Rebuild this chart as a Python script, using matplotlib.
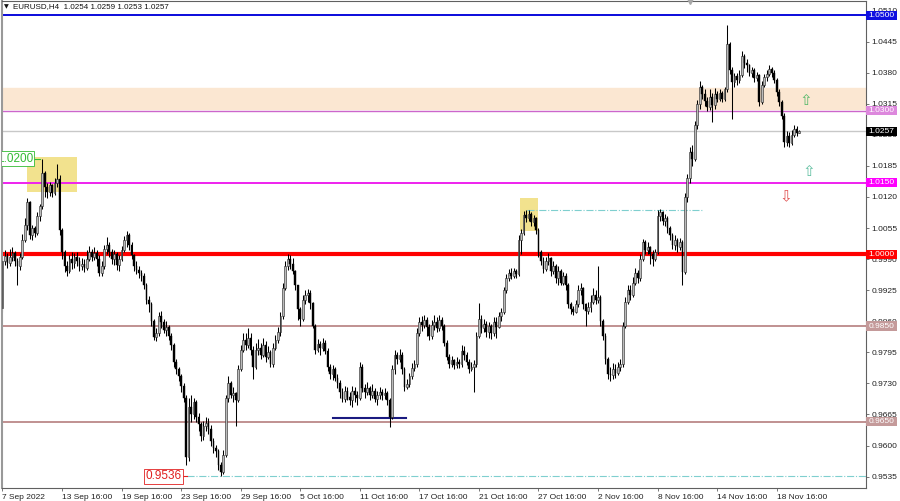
import numpy as np
import matplotlib
matplotlib.use("Agg")
import matplotlib.pyplot as plt
import matplotlib.transforms as mtransforms
from matplotlib.patches import Rectangle

FONT = "Liberation Sans"

# ---- EURUSD H4 candles ----
first_open = 0.9888
closes = [
    0.9985, 0.9996, 0.9982, 0.9994, 1.0003, 0.9985, 0.9975, 0.9995, 1.0030, 1.0062,
    1.0110, 1.0040, 1.0055, 1.0045, 1.0080, 1.0100, 1.0170, 1.0140, 1.0130, 1.0145,
    1.0128, 1.0150, 1.0158, 1.0050,
    1.0005, 0.9975, 0.9965, 0.9990, 0.9982, 0.9995, 0.9985, 0.9975, 0.9980, 0.9972,
    0.9990, 1.0005, 0.9995, 1.0002, 0.9990, 0.9960, 0.9975, 1.0012, 1.0020, 1.0005,
    0.9990, 1.0000, 0.9978, 0.9990,
    1.0010, 1.0030, 1.0040, 1.0020, 0.9998, 0.9975, 0.9968, 0.9960, 0.9955, 0.9935,
    0.9905, 0.9895, 0.9860, 0.9828, 0.9835, 0.9870, 0.9858, 0.9842, 0.9848, 0.9830,
    0.9810, 0.9775, 0.9760, 0.9745, 0.9725, 0.9700,
    0.9575, 0.9680, 0.9665, 0.9690, 0.9660, 0.9645, 0.9620, 0.9640, 0.9648, 0.9635,
    0.9610, 0.9595, 0.9588, 0.9560, 0.9545, 0.9580, 0.9700, 0.9730, 0.9705, 0.9710,
    0.9695, 0.9760, 0.9800, 0.9820, 0.9810, 0.9825, 0.9800, 0.9765, 0.9800, 0.9805,
    0.9790, 0.9810, 0.9785, 0.9795, 0.9770, 0.9805, 0.9820, 0.9838, 0.9870, 0.9930,
    0.9975, 0.9990, 0.9980, 0.9965, 0.9935, 0.9885,
    0.9865, 0.9905, 0.9915, 0.9920, 0.9898, 0.9850, 0.9800, 0.9812, 0.9805, 0.9815,
    0.9798, 0.9765, 0.9750, 0.9760, 0.9742, 0.9730, 0.9712, 0.9698, 0.9715, 0.9702,
    0.9695, 0.9715, 0.9705, 0.9700, 0.9765, 0.9720, 0.9712, 0.9720, 0.9705, 0.9715,
    0.9698, 0.9705, 0.9712, 0.9705, 0.9710, 0.9695, 0.9660, 0.9760, 0.9790, 0.9780,
    0.9790, 0.9760, 0.9722, 0.9728, 0.9745, 0.9762, 0.9770, 0.9835, 0.9858, 0.9852,
    0.9862, 0.9848, 0.9830, 0.9852, 0.9858, 0.9845, 0.9862, 0.9850, 0.9815, 0.9785,
    0.9770, 0.9778, 0.9768, 0.9775, 0.9770, 0.9798, 0.9790, 0.9775, 0.9760, 0.9765,
    0.9770, 0.9830, 0.9865, 0.9845, 0.9855, 0.9838, 0.9850, 0.9835, 0.9858, 0.9848,
    0.9870, 0.9880, 0.9925, 0.9950, 0.9960, 0.9955, 0.9965, 0.9958, 1.0030, 1.0045,
    1.0082, 1.0075, 1.0085, 1.0068, 1.0075, 1.0050, 1.0005, 0.9985, 0.9970, 0.9985,
    0.9992, 0.9965, 0.9975, 0.9950, 0.9965, 0.9940, 0.9955, 0.9935, 0.9895, 0.9885,
    0.9880, 0.9895, 0.9925, 0.9930, 0.9895, 0.9882, 0.9890, 0.9900, 0.9915, 0.9905,
    0.9910, 0.9860, 0.9830, 0.9780, 0.9750, 0.9748, 0.9760, 0.9752, 0.9765, 0.9770,
    0.9850, 0.9900, 0.9925, 0.9915, 0.9940, 0.9960, 0.9950, 0.9990, 1.0025, 1.0010,
    1.0015, 1.0000, 0.9990, 1.0005, 1.0080, 1.0088, 1.0070, 1.0075, 1.0055, 1.0040,
    1.0020, 1.0030, 1.0015, 1.0025, 0.9962, 1.0120, 1.0160, 1.0215, 1.0200, 1.0270,
    1.0315, 1.0350, 1.0335, 1.0320, 1.0308, 1.0330, 1.0312, 1.0335, 1.0325, 1.0338,
    1.0325, 1.0345, 1.0440, 1.0385, 1.0360, 1.0372, 1.0365, 1.0375, 1.0415, 1.0400,
    1.0395, 1.0380, 1.0385, 1.0368, 1.0375, 1.0318, 1.0355, 1.0370, 1.0378, 1.0388,
    1.0380, 1.0365, 1.0340, 1.0318, 1.0290, 1.0235, 1.0248, 1.0232, 1.0250, 1.0262,
    1.0254, 1.0257,
]
highs = [
    0.9990, 1.0008, 1.0002, 1.0012, 1.0015, 1.0006, 0.9992, 1.0002, 1.0042, 1.0075,
    1.0118, 1.0112, 1.0062, 1.0060, 1.0088, 1.0106, 1.0199, 1.0175, 1.0150, 1.0152,
    1.0148, 1.0160, 1.0188, 1.0165,
    1.0055, 1.0010, 0.9985, 0.9998, 1.0005, 1.0002, 1.0005, 0.9995, 0.9992, 0.9990,
    1.0008, 1.0018, 1.0012, 1.0015, 1.0008, 0.9998, 0.9985, 1.0020, 1.0036, 1.0025,
    1.0012, 1.0010, 1.0005, 0.9998,
    1.0018, 1.0038, 1.0048, 1.0045, 1.0025, 1.0000, 0.9985, 0.9975, 0.9968, 0.9960,
    0.9940, 0.9912, 0.9900, 0.9865, 0.9845, 0.9880, 0.9882, 0.9865, 0.9860, 0.9852,
    0.9835, 0.9815, 0.9782, 0.9765, 0.9750, 0.9730,
    0.9705, 0.9700, 0.9705, 0.9700, 0.9695, 0.9668, 0.9650, 0.9652, 0.9660, 0.9658,
    0.9642, 0.9615, 0.9602, 0.9592, 0.9565, 0.9590, 0.9705, 0.9745, 0.9735, 0.9722,
    0.9712, 0.9768, 0.9810, 0.9835, 0.9835, 0.9845, 0.9835, 0.9808, 0.9815, 0.9822,
    0.9815, 0.9825, 0.9818, 0.9808, 0.9800, 0.9815, 0.9832, 0.9848, 0.9880, 0.9940,
    0.9985, 1.0000, 0.9998, 0.9992, 0.9968, 0.9935,
    0.9890, 0.9915, 0.9925, 0.9928, 0.9925, 0.9900, 0.9855, 0.9822, 0.9818, 0.9825,
    0.9820, 0.9805, 0.9770, 0.9768, 0.9765, 0.9750, 0.9738, 0.9720, 0.9725, 0.9722,
    0.9712, 0.9725, 0.9722, 0.9715, 0.9775, 0.9770, 0.9728, 0.9732, 0.9725, 0.9728,
    0.9720, 0.9715, 0.9722, 0.9718, 0.9720, 0.9715, 0.9700, 0.9768, 0.9800, 0.9795,
    0.9802, 0.9795, 0.9765, 0.9740, 0.9752, 0.9772, 0.9778, 0.9845, 0.9868, 0.9870,
    0.9872, 0.9868, 0.9855, 0.9862, 0.9872, 0.9868, 0.9872, 0.9868, 0.9855, 0.9820,
    0.9792, 0.9788, 0.9782, 0.9785, 0.9782, 0.9810, 0.9808, 0.9795, 0.9782, 0.9775,
    0.9778, 0.9838, 0.9898, 0.9872, 0.9865, 0.9860, 0.9858, 0.9855, 0.9868, 0.9868,
    0.9880, 0.9888, 0.9932, 0.9958, 0.9970, 0.9972, 0.9972, 0.9970, 1.0040, 1.0052,
    1.0090, 1.0093, 1.0092, 1.0088, 1.0082, 1.0078, 1.0055, 1.0010, 0.9995, 0.9995,
    1.0002, 0.9995, 0.9985, 0.9980, 0.9975, 0.9970, 0.9962, 0.9960, 0.9940, 0.9900,
    0.9892, 0.9905, 0.9935, 0.9940, 0.9932, 0.9898, 0.9900, 0.9915, 0.9930, 0.9925,
    0.9975, 0.9915, 0.9865, 0.9835, 0.9785, 0.9765, 0.9772, 0.9770, 0.9775, 0.9780,
    0.9858, 0.9910, 0.9935, 0.9935, 0.9952, 0.9972, 0.9968, 1.0000, 1.0032, 1.0030,
    1.0025, 1.0018, 1.0008, 1.0012, 1.0092, 1.0095, 1.0090, 1.0085, 1.0080, 1.0060,
    1.0045, 1.0040, 1.0035, 1.0035, 1.0030, 1.0128, 1.0168, 1.0225, 1.0228, 1.0278,
    1.0322, 1.0362, 1.0355, 1.0345, 1.0330, 1.0345, 1.0338, 1.0348, 1.0342, 1.0345,
    1.0342, 1.0350, 1.0479, 1.0445, 1.0392, 1.0380, 1.0380, 1.0385, 1.0425, 1.0420,
    1.0408, 1.0398, 1.0392, 1.0390, 1.0382, 1.0378, 1.0362, 1.0378, 1.0385, 1.0395,
    1.0392, 1.0385, 1.0368, 1.0345, 1.0322, 1.0295, 1.0258, 1.0255, 1.0260, 1.0270,
    1.0268, 1.0259,
]
lows = [
    0.9880, 0.9978, 0.9972, 0.9976, 0.9985, 0.9975, 0.9935, 0.9968, 0.9990, 1.0025,
    1.0050, 1.0032, 1.0030, 1.0036, 1.0040, 1.0070, 1.0095, 1.0120, 1.0118, 1.0122,
    1.0120, 1.0125, 1.0140, 1.0040,
    0.9990, 0.9962, 0.9955, 0.9960, 0.9970, 0.9972, 0.9975, 0.9965, 0.9968, 0.9962,
    0.9968, 0.9985, 0.9985, 0.9988, 0.9975, 0.9955, 0.9954, 0.9970, 1.0000, 0.9995,
    0.9980, 0.9978, 0.9968, 0.9965,
    0.9985, 1.0005, 1.0015, 1.0010, 0.9990, 0.9965, 0.9958, 0.9950, 0.9945, 0.9928,
    0.9895, 0.9880, 0.9850, 0.9820, 0.9818, 0.9830, 0.9845, 0.9835, 0.9830, 0.9820,
    0.9800, 0.9765, 0.9750, 0.9735, 0.9712, 0.9690,
    0.9560, 0.9568, 0.9650, 0.9655, 0.9650, 0.9630, 0.9610, 0.9612, 0.9630, 0.9625,
    0.9600, 0.9585, 0.9575, 0.9548, 0.9536, 0.9540, 0.9575, 0.9690, 0.9700, 0.9690,
    0.9640, 0.9690, 0.9755, 0.9795, 0.9800, 0.9805, 0.9790, 0.9740, 0.9760, 0.9790,
    0.9782, 0.9785, 0.9775, 0.9780, 0.9765, 0.9765, 0.9800, 0.9815, 0.9830, 0.9865,
    0.9925, 0.9968, 0.9970, 0.9958, 0.9925, 0.9862,
    0.9850, 0.9860, 0.9895, 0.9900, 0.9885, 0.9845, 0.9792, 0.9795, 0.9790, 0.9798,
    0.9792, 0.9755, 0.9740, 0.9738, 0.9735, 0.9720, 0.9700, 0.9690, 0.9692, 0.9695,
    0.9685, 0.9680, 0.9690, 0.9685, 0.9695, 0.9712, 0.9700, 0.9705, 0.9695, 0.9700,
    0.9690, 0.9685, 0.9698, 0.9695, 0.9698, 0.9685, 0.9638, 0.9655, 0.9750, 0.9770,
    0.9775, 0.9750, 0.9715, 0.9718, 0.9722, 0.9740, 0.9755, 0.9765, 0.9830, 0.9840,
    0.9845, 0.9830, 0.9820, 0.9822, 0.9842, 0.9838, 0.9840, 0.9842, 0.9808, 0.9778,
    0.9762, 0.9765, 0.9760, 0.9762, 0.9762, 0.9765, 0.9778, 0.9768, 0.9752, 0.9755,
    0.9712, 0.9765, 0.9825, 0.9835, 0.9838, 0.9828, 0.9825, 0.9822, 0.9830, 0.9825,
    0.9845, 0.9860, 0.9875, 0.9918, 0.9945, 0.9948, 0.9950, 0.9950, 0.9955, 1.0000,
    1.0040, 1.0068, 1.0070, 1.0060, 1.0060, 1.0042, 0.9995, 0.9978, 0.9960, 0.9965,
    0.9978, 0.9955, 0.9958, 0.9940, 0.9935, 0.9935, 0.9935, 0.9925, 0.9888, 0.9875,
    0.9872, 0.9878, 0.9890, 0.9915, 0.9885, 0.9850, 0.9875, 0.9880, 0.9895, 0.9895,
    0.9898, 0.9850, 0.9820, 0.9770, 0.9740, 0.9735, 0.9740, 0.9742, 0.9748, 0.9755,
    0.9765, 0.9845, 0.9895, 0.9905, 0.9910, 0.9935, 0.9940, 0.9945, 0.9985, 1.0000,
    1.0000, 0.9980, 0.9975, 0.9985, 1.0000, 1.0070, 1.0062, 1.0060, 1.0045, 1.0030,
    1.0012, 1.0010, 1.0005, 1.0010, 0.9935, 0.9958, 1.0110, 1.0150, 1.0185, 1.0195,
    1.0262, 1.0305, 1.0325, 1.0310, 1.0300, 1.0302, 1.0276, 1.0305, 1.0318, 1.0320,
    1.0318, 1.0320, 1.0340, 1.0378, 1.0282, 1.0350, 1.0355, 1.0358, 1.0370, 1.0390,
    1.0382, 1.0372, 1.0370, 1.0360, 1.0362, 1.0310, 1.0315, 1.0350, 1.0362, 1.0372,
    1.0370, 1.0358, 1.0332, 1.0310, 1.0282, 1.0225, 1.0226, 1.0224, 1.0228, 1.0245,
    1.0248, 1.0253,
]

# time axis (one label every 24 bars)
x_tick_pos = [0, 24, 48, 72, 96, 120, 144, 168, 192, 216, 240, 264, 288, 312]
x_tick_labels = ["7 Sep 2022", "13 Sep 16:00", "19 Sep 16:00", "23 Sep 16:00",
                 "29 Sep 16:00", "5 Oct 16:00", "11 Oct 16:00", "17 Oct 16:00",
                 "21 Oct 16:00", "27 Oct 16:00", "2 Nov 16:00", "8 Nov 16:00",
                 "14 Nov 16:00", "18 Nov 16:00"]
y_ticks = [1.0510, 1.0445, 1.0380, 1.0315, 1.0250, 1.0185, 1.0120, 1.0055,
           0.9990, 0.9925, 0.9860, 0.9795, 0.9730, 0.9665, 0.9600, 0.9535]

# horizontal levels and their price tags
level_prices = [1.0500, 1.0300, 1.0150, 1.0000, 0.9850, 0.9650]
level_colors = ["#0a0adc", "#cc66cc", "#ee22ee", "#ff0000", "#c09090", "#c09090"]
level_tag_colors = ["#1010e0", "#dd88dd", "#ff00ff", "#ff0000", "#c49a9a", "#c49a9a"]
level_widths = [1.4, 1.0, 1.4, 3.0, 1.4, 1.4]
last_price = 1.0257

zone_low, zone_high = 1.0305, 1.0347
box1 = (10.0, 30.2, 1.0130, 1.0203)
box2 = (208.5, 215.8, 1.0048, 1.0117)
high_line = (211.5, 282.0, 1.0093)
low_line = (133.0, 162.5, 0.9657)
low_price = 0.9536
top_price = 1.0200

# ---- figure ----
fig = plt.figure(figsize=(9.0, 5.01), dpi=100)
ax = fig.add_axes([2 / 900, 1 - 488 / 501, 864 / 900, 487 / 501])
ax.set_facecolor("white")
ax.set_xlim(-0.2, 348.0)
ax.set_ylim(0.95111, 1.05299)

o = np.array([first_open] + closes[:-1])
c = np.array(closes)
h = np.maximum(np.array(highs), np.maximum(o, c))
l = np.minimum(np.array(lows), np.minimum(o, c))
xs = np.arange(len(c))
up = c >= o

# zones
ax.axhspan(zone_low, zone_high, color="#fbe7d2", zorder=0)
for x0, x1, y0, y1 in (box1, box2):
    ax.add_patch(Rectangle((x0, y0), x1 - x0, y1 - y0, facecolor="#f2e28e",
                           edgecolor="none", zorder=0.5))

# levels
ax.axhline(last_price, color="#c8c8c8", lw=1.0, zorder=1)
for p, col, lw in zip(level_prices, level_colors, level_widths):
    ax.axhline(p, color=col, lw=lw, zorder=1)
ax.plot([high_line[0], high_line[1]], [high_line[2]] * 2, color="#7fcfcf",
        lw=0.8, ls="-.", zorder=1)
ax.plot([low_line[0], low_line[1]], [low_line[2]] * 2, color="#1a1a80",
        lw=1.5, zorder=1)
ax.plot([74.2, 348], [low_price] * 2, color="#7fcfcf", lw=0.8, ls="-.", zorder=1)

# candles
ax.vlines(xs, l, h, color="black", lw=0.75, zorder=2)
body = np.abs(c - o)
body = np.maximum(body, 0.00012)
ax.bar(xs[up], body[up], bottom=np.minimum(o, c)[up], width=0.7,
       facecolor="#bbbbbb", edgecolor="#222222", lw=0.4, zorder=3)
ax.bar(xs[~up], body[~up], bottom=np.minimum(o, c)[~up], width=0.7,
       facecolor="black", edgecolor="black", lw=0.3, zorder=3)

# price labels on chart
ax.plot([12.3, 15.0], [top_price] * 2, color="#33bb33", lw=0.8, zorder=4)
ax.text(12.3, top_price, "1.0200", ha="right", va="center", fontsize=8.5,
        family=FONT, color="#33bb33", zorder=5, clip_on=True,
        bbox=dict(boxstyle="square,pad=0.12", facecolor="white",
                  edgecolor="#33bb33", lw=0.6))
ax.plot([72.2, 74.2], [low_price] * 2, color="#e02020", lw=0.8, zorder=4)
ax.text(72.2, low_price, "0.9536", ha="right", va="center", fontsize=8.5,
        family=FONT, color="#e02020", zorder=5,
        bbox=dict(boxstyle="square,pad=0.12", facecolor="white",
                  edgecolor="#e02020", lw=0.6))

# arrows
ax.text(323.8, 1.0322, "\u21e7", ha="center", va="center", fontsize=11,
        family="DejaVu Sans", color="#55b86a", zorder=5)
ax.text(325.0, 1.0174, "\u21e7", ha="center", va="center", fontsize=11,
        family="DejaVu Sans", color="#5fbfa0", zorder=5)
ax.text(315.7, 1.0121, "\u21e9", ha="center", va="center", fontsize=11,
        family="DejaVu Sans", color="#e05050", zorder=5)

# axes styling
for side in ("top", "bottom", "right"):
    ax.spines[side].set_color("#606060")
    ax.spines[side].set_linewidth(0.8)
ax.spines["left"].set_color("#999999")
ax.spines["left"].set_linewidth(1.5)

ax.yaxis.tick_right()
ax.set_yticks(y_ticks)
ax.set_yticklabels([f"{v:.4f}" for v in y_ticks])
ax.tick_params(axis="y", direction="out", length=2.5, width=0.6, color="#606060",
               pad=1.5, labelsize=6, labelcolor="#222222")
ax.set_xticks(x_tick_pos)
ax.set_xticklabels(x_tick_labels)
ax.tick_params(axis="x", direction="out", length=2.5, width=0.6, color="#606060",
               pad=1.5, labelsize=6, labelcolor="#222222")
for lab in ax.get_xticklabels():
    lab.set_horizontalalignment("left")
for lab in ax.get_xticklabels() + ax.get_yticklabels():
    lab.set_family(FONT)

# coloured price tags on the right scale
trans = mtransforms.blended_transform_factory(ax.transAxes, ax.transData)
tag_w = 31 / 864
tag_h = 0.00095
tags = list(zip(level_prices, level_tag_colors)) + [(last_price, "#000000")]
for p, col in tags:
    ax.add_patch(Rectangle((1.0, p - tag_h), tag_w, 2 * tag_h, transform=trans,
                           facecolor=col, edgecolor="none", clip_on=False, zorder=6))
    ax.text(1.0 + tag_w / 2, p, f"{p:.4f}", transform=trans, ha="center",
            va="center", fontsize=6, family=FONT, color="white", zorder=7,
            clip_on=False)

# header and shift marker
fig.text(4 / 900, 1 - 7 / 501, "\u25bc", fontsize=4.5, family="DejaVu Sans",
         color="#111111", va="center")
fig.text(13 / 900, 1 - 7 / 501, "EURUSD,H4  1.0254 1.0259 1.0253 1.0257",
         fontsize=5.8, family=FONT, color="#111111", va="center")
ax.plot([(690 - 2) / 864], [1.0], marker="v", markersize=4, color="#a8a8a8",
        transform=ax.transAxes, clip_on=False, zorder=8)

fig.savefig("out.png", dpi=100, facecolor="white")
